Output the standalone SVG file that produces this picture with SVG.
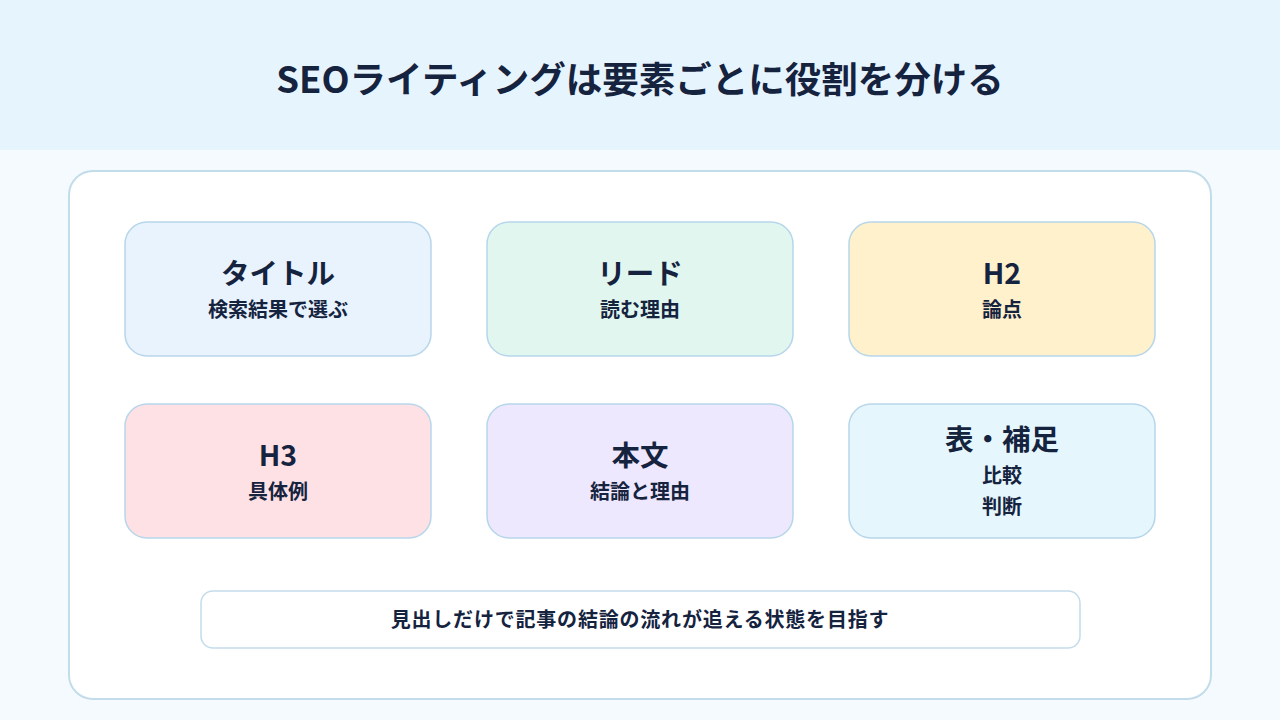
<svg xmlns="http://www.w3.org/2000/svg" width="1280" height="720" viewBox="0 0 1280 720">
<style>
text{font-family:"Noto Sans CJK JP","Noto Sans",sans-serif;font-weight:700;fill:#15233f;text-anchor:middle}
.h{font-size:36.5px}
.t{font-size:28.5px}
.s{font-size:20px}
.b{font-size:20px;letter-spacing:0.8px}
.card{stroke:#b7d6ea;stroke-width:1.5}
</style>
<rect width="1280" height="720" fill="#f5fafe"/>
<rect width="1280" height="150" fill="#e6f4fe"/>
<text class="h" x="640" y="93">SEOライティングは要素ごとに役割を分ける</text>
<rect x="69" y="171" width="1142" height="528" rx="24" fill="#ffffff" stroke="#c3dcea" stroke-width="2"/>
<g id="n1"><rect class="card" x="125" y="222" width="306" height="134" rx="22" fill="#e8f3fe"/><text class="t" x="278" y="284">タイトル</text><text class="s" x="278" y="317">検索結果で選ぶ</text></g>
<g id="n2"><rect class="card" x="487" y="222" width="306" height="134" rx="22" fill="#e0f6ef"/><text class="t" x="640" y="284">リード</text><text class="s" x="640" y="317">読む理由</text></g>
<g id="n3"><rect class="card" x="849" y="222" width="306" height="134" rx="22" fill="#fff1cc"/><text class="t" x="1002" y="284">H2</text><text class="s" x="1002" y="317">論点</text></g>
<g id="n4"><rect class="card" x="125" y="404" width="306" height="134" rx="22" fill="#fee1e5"/><text class="t" x="278" y="466">H3</text><text class="s" x="278" y="499">具体例</text></g>
<g id="n5"><rect class="card" x="487" y="404" width="306" height="134" rx="22" fill="#ede8fd"/><text class="t" x="640" y="466">本文</text><text class="s" x="640" y="499">結論と理由</text></g>
<g id="n6"><rect class="card" x="849" y="404" width="306" height="134" rx="22" fill="#e5f7fd"/><text class="t" x="1002" y="450">表・補足</text><text class="s" x="1002" y="483">比較</text><text class="s" x="1002" y="514">判断</text></g>
<g id="note"><rect x="201" y="591" width="879" height="57" rx="12" fill="#ffffff" stroke="#c3dcea" stroke-width="1.5"/><text class="b" x="640" y="627">見出しだけで記事の結論の流れが追える状態を目指す</text></g>
<g id="connectors"></g>
</svg>
